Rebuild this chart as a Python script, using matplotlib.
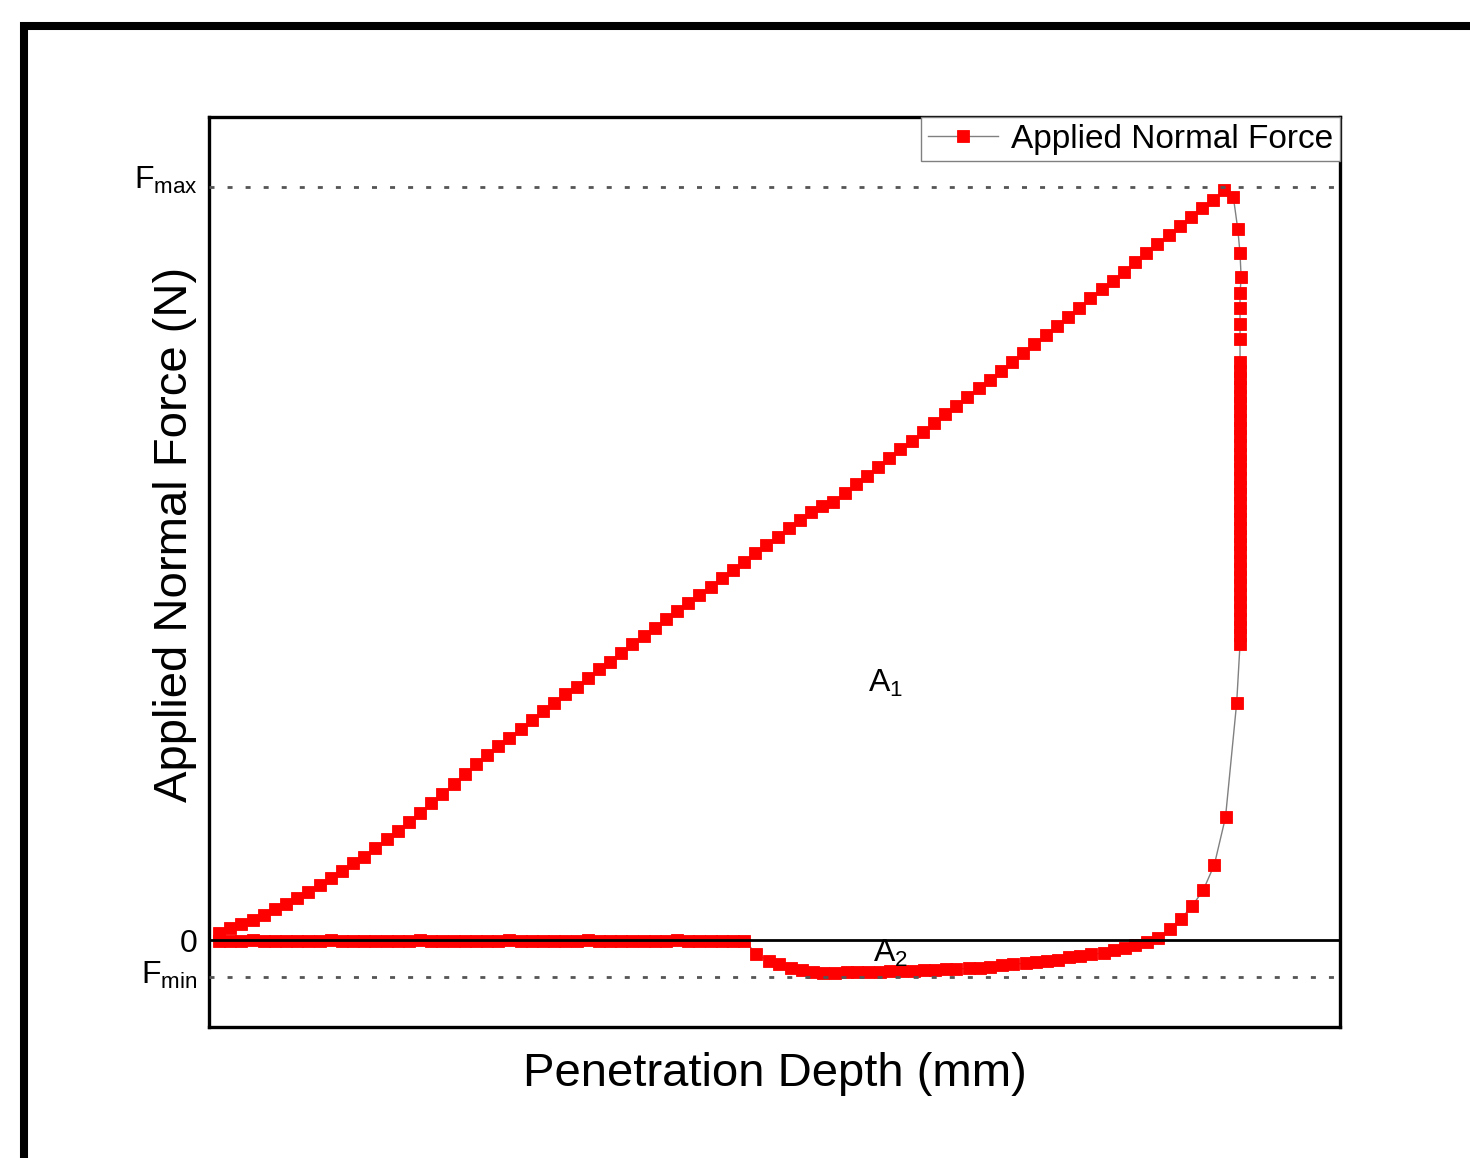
import matplotlib.pyplot as plt
from matplotlib.patches import Rectangle
from matplotlib.transforms import ScaledTranslation

plt.rcParams['font.family'] = ['Liberation Sans', 'DejaVu Sans']
plt.rcParams['mathtext.fontset'] = 'custom'
plt.rcParams['mathtext.rm'] = 'Liberation Sans'
plt.rcParams['mathtext.it'] = 'Liberation Sans:italic'

# depth on an arbitrary scale, force scaled so that Fmax = 100
load_depth = [
    0.09, 0.19, 0.29, 0.39, 0.49, 0.59, 0.69, 0.79, 0.89, 0.99,
    1.09, 1.19, 1.29, 1.39, 1.49, 1.59, 1.69, 1.79, 1.89, 1.99,
    2.09, 2.19, 2.29, 2.39, 2.49, 2.59, 2.69, 2.79, 2.89, 2.99,
    3.09, 3.19, 3.29, 3.39, 3.49, 3.59, 3.69, 3.79, 3.89, 3.99,
    4.09, 4.19, 4.29, 4.39, 4.49, 4.59, 4.69, 4.79, 4.89, 4.99,
    5.09, 5.19, 5.29, 5.39, 5.49, 5.59, 5.69, 5.79, 5.89, 5.99,
    6.09, 6.19, 6.29, 6.39, 6.49, 6.59, 6.69, 6.79, 6.89, 6.99,
    7.09, 7.19, 7.29, 7.39, 7.49, 7.59, 7.69, 7.79, 7.89, 7.99,
    8.09, 8.19, 8.29, 8.39, 8.49, 8.59, 8.69, 8.79, 8.89, 8.99,
    9.09]
load_force = [
    0.89, 1.55, 2.08, 2.66, 3.32, 4.08, 4.78, 5.54, 6.41, 7.30,
    8.19, 9.16, 10.19, 11.06, 12.18, 13.41, 14.52, 15.71, 16.91, 18.15,
    19.39, 20.72, 22.05, 23.33, 24.57, 25.76, 26.87, 28.02, 29.22, 30.41,
    31.51, 32.63, 33.64, 34.75, 35.95, 36.96, 38.15, 39.27, 40.37, 41.47,
    42.59, 43.69, 44.71, 45.82, 46.92, 48.03, 49.14, 50.24, 51.35, 52.46,
    53.56, 54.67, 55.78, 56.80, 57.64, 58.21, 59.32, 60.52, 61.66, 62.86,
    63.97, 65.17, 66.27, 67.42, 68.62, 69.81, 70.96, 72.10, 73.27, 74.40,
    75.60, 76.76, 78.00, 79.15, 80.35, 81.58, 82.78, 83.97, 85.22, 86.41,
    87.56, 88.75, 90.00, 91.20, 92.43, 93.63, 94.82, 96.06, 97.15, 98.27,
    99.60]

unload_depth = [
    9.17, 9.21, 9.23, 9.24, 9.23, 9.23, 9.23, 9.23,
    9.23, 9.23, 9.23, 9.23, 9.23, 9.23, 9.23, 9.23, 9.23, 9.23,
    9.23, 9.23, 9.23, 9.23, 9.23, 9.23, 9.23, 9.23, 9.23, 9.23,
    9.23, 9.23, 9.23, 9.23, 9.23, 9.23, 9.23, 9.23, 9.23, 9.23,
    9.23, 9.23, 9.23, 9.23, 9.23,
    9.20, 9.10, 9.00, 8.90, 8.80, 8.70, 8.60, 8.50]
unload_force = [
    98.7, 94.4, 91.2, 88.0, 85.9, 83.9, 81.8, 79.8,
    76.8, 75.6, 74.6, 73.5, 72.3, 71.3, 70.2, 69.0, 68.0, 66.9,
    65.8, 64.6, 63.6, 62.5, 61.4, 60.2, 59.2, 58.1, 57.0, 55.9,
    54.7, 53.7, 52.6, 51.5, 50.3, 49.3, 48.2, 47.1, 46.0, 44.9,
    43.8, 42.6, 41.6, 40.5, 39.3,
    31.5, 16.3, 10.0, 6.6, 4.5, 2.8, 1.5, 0.3]

adhesion_depth = [
    8.40, 8.29, 8.20, 8.10, 8.01, 7.90, 7.80, 7.70, 7.60, 7.50,
    7.40, 7.31, 7.20, 7.10, 6.99, 6.90, 6.80, 6.69, 6.60, 6.50,
    6.40, 6.31, 6.20, 6.10, 6.01, 5.90, 5.80, 5.71, 5.60, 5.50,
    5.41, 5.31, 5.21, 5.10, 5.01, 4.90]
adhesion_force = [
    -0.2, -0.7, -1.0, -1.3, -1.7, -1.9, -2.1, -2.3, -2.6, -2.75,
    -2.9, -3.1, -3.2, -3.35, -3.55, -3.7, -3.75, -3.85, -3.9, -4.0,
    -4.0, -4.1, -4.1, -4.15, -4.2, -4.2, -4.25, -4.3, -4.35, -4.35,
    -4.2, -4.0, -3.7, -3.2, -2.8, -1.8]

return_depth = [
    4.79, 4.69, 4.59, 4.49, 4.39, 4.29, 4.19, 4.09, 3.99, 3.89,
    3.79, 3.69, 3.59, 3.49, 3.39, 3.29, 3.19, 3.09, 2.99, 2.89,
    2.79, 2.69, 2.59, 2.49, 2.39, 2.29, 2.19, 2.09, 1.99, 1.89,
    1.79, 1.69, 1.59, 1.49, 1.39, 1.29, 1.19, 1.09, 0.99, 0.89,
    0.79, 0.69, 0.59, 0.49, 0.39, 0.29, 0.19, 0.09]
return_force = [
    -0.1, -0.1, -0.1, -0.1, -0.1, -0.1, 0.0, -0.1, -0.1, -0.1,
    -0.1, -0.1, -0.1, -0.1, 0.0, -0.1, -0.1, -0.1, -0.1, -0.1,
    -0.1, 0.0, -0.1, -0.1, -0.1, -0.1, -0.1, -0.1, -0.1, 0.0,
    -0.1, -0.1, -0.1, -0.1, -0.1, -0.1, -0.1, 0.0, -0.1, -0.1,
    -0.1, -0.1, -0.1, -0.1, 0.0, -0.1, -0.1, -0.1]

F_MAX = 100.0
F_MIN = -4.87
ytick_values = [F_MIN, 0, F_MAX]
ytick_labels = [r'F$_{\mathregular{min}}$', '0', r'F$_{\mathregular{max}}$']

fig = plt.figure(figsize=(14.7, 11.58), dpi=100)
ax = fig.add_axes([209 / 1470, 1 - 1027 / 1158, 1131 / 1470, 910 / 1158])

depth = load_depth + unload_depth + adhesion_depth + return_depth
force = load_force + unload_force + adhesion_force + return_force
ax.plot(depth, force, '-s', color='#808080', lw=1, mfc='red', mec='red',
        mew=0.6, ms=9, label='Applied Normal Force', zorder=3)

# zero line and the Fmax / Fmin guides
ax.axhline(0, color='black', lw=2, zorder=5)
for f in (F_MAX, F_MIN):
    ax.axhline(f, color='#555555', lw=2, dashes=(1.8, 4.7), zorder=6)

ax.text(5.90, 32.9, r'A$_{\mathregular{1}}$', fontsize=23, ha='left', va='baseline')
ax.text(5.94, -2.88, r'A$_{\mathregular{2}}$', fontsize=23, ha='left', va='baseline', zorder=7)

ax.set_xlim(0, 10.125)
ax.set_ylim(-11.55, 109.3)
ax.set_xticks([])
ax.set_yticks(ytick_values, ytick_labels, fontsize=23)
ax.tick_params(axis='y', length=0, pad=8)
# nudge the F labels up a little, as in the original
for lab, dy in zip(ax.get_yticklabels(), (5, 0, 10)):
    lab.set_transform(lab.get_transform() + ScaledTranslation(0, dy / 100, fig.dpi_scale_trans))
for sp in ax.spines.values():
    sp.set_linewidth(2.4)

ax.set_xlabel('Penetration Depth (mm)', fontsize=34)
ax.xaxis.set_label_coords(0.5, -0.028)
ax.set_ylabel('Applied Normal Force (N)', fontsize=34)
ax.yaxis.set_label_coords(-0.0106, 0.541)

ax.legend(loc='upper right', borderaxespad=0, fontsize=24, fancybox=False,
          framealpha=1, edgecolor='#808080', handlelength=2.1,
          handletextpad=0.4, borderpad=0.2)

# thick outer frame, cut off at right and bottom
fig.patches.append(Rectangle((23.5 / 1470, -0.1), 1.2, 1.1 - 25.5 / 1158,
                             transform=fig.transFigure, fill=False,
                             lw=5.8, ec='black'))

fig.savefig('out.png', dpi=100)
